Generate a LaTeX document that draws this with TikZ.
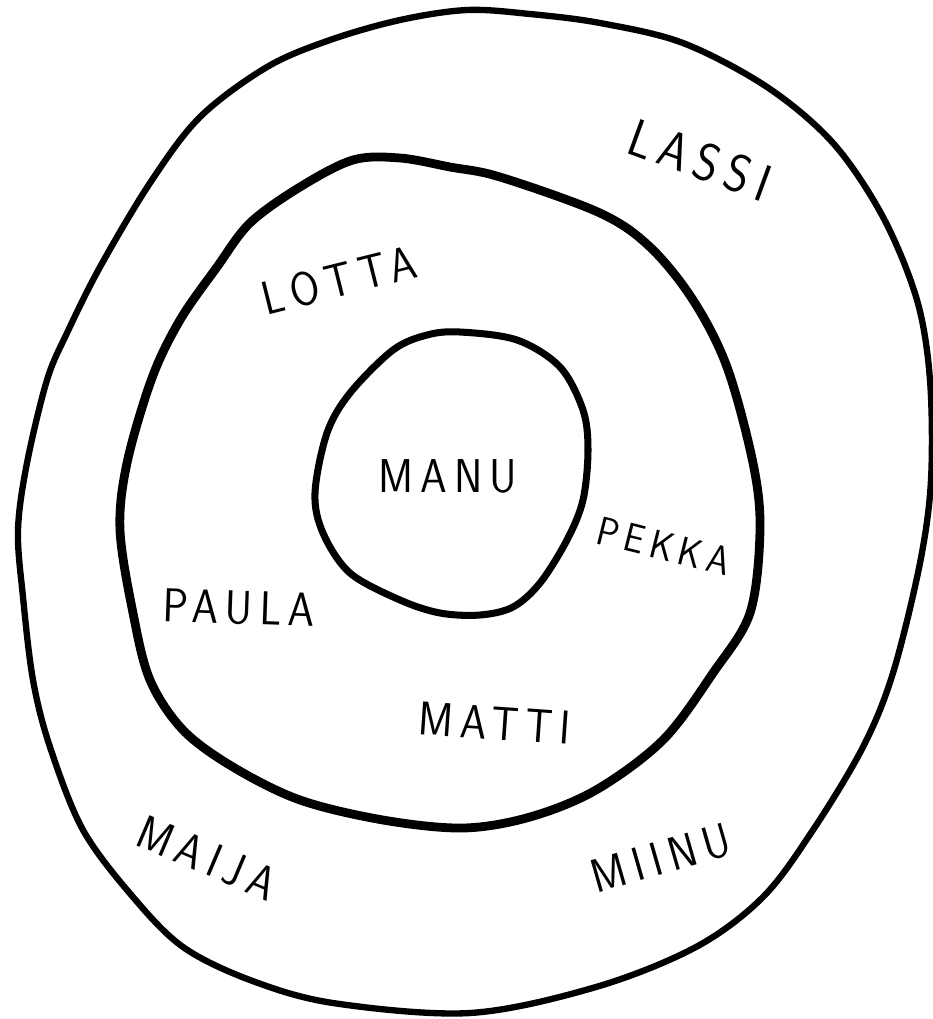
\documentclass[tikz,border=0pt]{standalone}
\usepackage{fontspec}
\newfontfamily\handfont{lmsans17-regular.otf}[FakeStretch=0.9, LetterSpace=15]
\usetikzlibrary{positioning}

\begin{document}
\begin{tikzpicture}[
  x=0.02cm, y=-0.02cm,
  ring/.style={draw=black, line join=round, line cap=round},
  outerring/.style={ring, line width=3.6pt},
  midring/.style={ring, line width=5pt},
  innerring/.style={ring, line width=4pt},
  namelabel/.style={font=\handfont\fontsize{27}{27}\selectfont, inner sep=0pt},
  biglabel/.style={font=\handfont\fontsize{30}{30}\selectfont, inner sep=0pt},
  smalllabel/.style={font=\handfont\fontsize{23}{23}\selectfont, inner sep=0pt}
]
  \useasboundingbox (0,0) rectangle (933,1019);

  % Rings
  \draw[outerring] plot[smooth cycle, tension=0.55] coordinates {
    (467,10) (530,14) (600,23) (683,43) (767,87) (833,143) (883,217)
    (917,300) (930,380) (931,480) (920,563) (893,673) (863,747) (813,830)
    (763,897) (696,947) (596,987) (470,1013) (333,1003) (250,980) (183,947)
    (133,897) (83,830) (50,747) (33,680) (23,597) (18,530) (27,463)
    (47,380) (67,333) (100,267) (150,183) (200,117) (267,67) (330,40) (400,20)};
  \draw[midring] plot[smooth cycle, tension=0.55] coordinates {
    (353,160) (400,158) (450,167) (500,177) (600,213) (650,247) (693,300)
    (727,367) (753,463) (760,530) (750,613) (713,673) (663,740) (596,790)
    (530,817) (463,828) (383,820) (300,800) (233,767) (183,730) (150,680)
    (133,613) (120,530) (127,463) (152,378) (180,320) (217,267) (250,223)
    (300,187)};
  \draw[innerring] plot[smooth cycle, tension=0.55] coordinates {
    (460,332) (517,340) (560,367) (583,410) (588,450) (583,500) (567,540)
    (540,583) (513,607) (480,615) (440,613) (400,600) (350,573) (323,533)
    (315,493) (327,433) (350,393) (393,350) (427,335)};

  % Names
  \node[biglabel, rotate=-20] (lassi) at (700,160) {LASSI};
  \node[namelabel, rotate=14] (lotta) at (339,280) {LOTTA};
  \node[namelabel] (manu) at (448,476) {MANU};
  \node[smalllabel, rotate=-14] (pekka) at (664,546) {PEKKA};
  \node[namelabel, rotate=-2] (paula) at (239,608) {PAULA};
  \node[namelabel, rotate=-4] (matti) at (495,723) {MATTI};
  \node[namelabel, rotate=-23] (maija) at (207,858) {MAIJA};
  \node[namelabel, rotate=16] (miinu) at (661,858) {MIINU};
\end{tikzpicture}
\end{document}
